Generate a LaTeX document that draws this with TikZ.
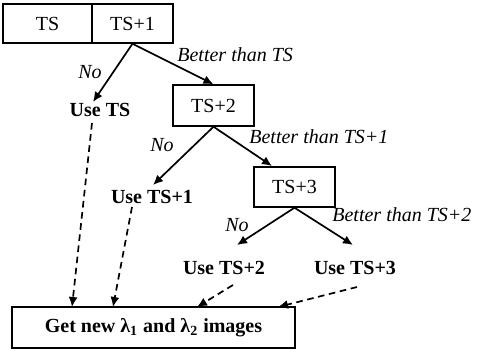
\documentclass[tikz,border=0pt]{standalone}
\usepackage{fontspec}
\setmainfont{Liberation Serif}
\usetikzlibrary{arrows.meta}
\begin{document}
\begin{tikzpicture}[x=0.5pt,y=-0.5pt,
  font=\fontsize{10}{12}\selectfont,
  box/.style={draw, line width=0.7pt, inner sep=0pt},
  lbl/.style={font=\fontsize{10}{12}\selectfont\bfseries, inner sep=0pt},
  cond/.style={font=\fontsize{10}{12}\selectfont\itshape, inner sep=0pt},
  flow/.style={-{Latex[length=5pt,width=4.5pt]}, line width=0.85pt},
  back/.style={flow, dash pattern=on 3.3pt off 2.3pt}]
\useasboundingbox (0,0) rectangle (479,350);

% boxes
\node[box, minimum width=44.5pt, minimum height=19.5pt] (ts)  at (47.5,23.5) {TS};
\node[box, minimum width=40.5pt, minimum height=19.5pt] (ts1) at (132.5,23.5) {TS+1};
\node[box, minimum width=40.5pt, minimum height=20.5pt] (ts2) at (213.5,105.5) {TS+2};
\node[box, minimum width=40.5pt, minimum height=20pt]   (ts3) at (294.5,187) {TS+3};
\node[box, minimum width=141.5pt, minimum height=20.5pt] (get) at (153.5,327.5)
  {\bfseries Get new λ\textsubscript{1} and λ\textsubscript{2} images};

% outcomes
\node[lbl] (use0) at (100,110) {Use TS};
\node[lbl] (use1) at (152,197) {Use TS+1};
\node[lbl] (use2) at (224,268) {Use TS+2};
\node[lbl] (use3) at (355,268) {Use TS+3};

% branch conditions
\node[cond] (no0) at (90,72)  {No};
\node[cond] (no1) at (162,145) {No};
\node[cond] (no2) at (237,225) {No};
\node[cond, anchor=west] (bt0) at (177,55)  {Better than TS};
\node[cond, anchor=west] (bt1) at (249,137) {Better than TS+1};
\node[cond, anchor=west] (bt2) at (332,215) {Better than TS+2};

% arrow end points
\coordinate (t0) at (93,102);
\coordinate (t1) at (153,185);
\coordinate (t2) at (272,166);
\coordinate (t3) at (237,245);
\coordinate (t4) at (353,245);
\coordinate (d0) at (92,123);
\coordinate (e0) at (72,307);
\coordinate (d1) at (132,207);
\coordinate (e1) at (113,307);
\coordinate (d2) at (233,285);
\coordinate (e2) at (197,307);
\coordinate (d3) at (357,287);
\coordinate (e3) at (278,307);

% decision arrows
\draw[flow] (ts1.south) -- (t0);
\draw[flow] (ts1.south) -- (ts2.north);
\draw[flow] (ts2.south) -- (t1);
\draw[flow] (ts2.south) -- (t2);
\draw[flow] (ts3.south) -- (t3);
\draw[flow] (ts3.south) -- (t4);

% return to acquisition
\draw[back] (d0) -- (e0);
\draw[back] (d1) -- (e1);
\draw[back] (d2) -- (e2);
\draw[back] (d3) -- (e3);
\end{tikzpicture}
\end{document}
